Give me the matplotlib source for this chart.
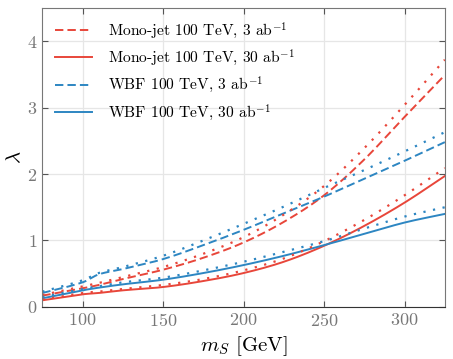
import numpy as np
import matplotlib
matplotlib.use("Agg")
import matplotlib.pyplot as plt

# DATA
ms = [75, 100, 110, 125, 150, 175, 200, 225, 250, 275, 300, 325]

wbf_3 = [0.21, 0.37, 0.49, 0.57, 0.72, 0.93, 1.16, 1.41, 1.66, 1.93, 2.20, 2.48]
wbf_3_alt = [0.23, 0.40, 0.51, 0.60, 0.77, 1.00, 1.25, 1.51, 1.79, 2.06, 2.34, 2.63]
wbf_30 = [0.13, 0.25, 0.29, 0.34, 0.41, 0.51, 0.63, 0.77, 0.93, 1.10, 1.27, 1.40]
wbf_30_alt = [0.15, 0.27, 0.31, 0.37, 0.44, 0.55, 0.68, 0.83, 0.99, 1.18, 1.36, 1.50]

mono_3 = [0.17, 0.28, 0.33, 0.42, 0.56, 0.74, 0.97, 1.28, 1.68, 2.22, 2.86, 3.49]
mono_3_alt = [0.18, 0.31, 0.36, 0.45, 0.60, 0.80, 1.05, 1.39, 1.82, 2.39, 3.04, 3.72]
mono_30 = [0.10, 0.19, 0.21, 0.25, 0.30, 0.39, 0.51, 0.68, 0.92, 1.22, 1.57, 1.97]
mono_30_alt = [0.11, 0.21, 0.23, 0.27, 0.33, 0.42, 0.55, 0.73, 0.99, 1.31, 1.68, 2.09]

labels = [r'Mono-jet 100 TeV, 3 ab$^{-1}$', r'Mono-jet 100 TeV, 30 ab$^{-1}$',
          r'WBF 100 TeV, 3 ab$^{-1}$', r'WBF 100 TeV, 30 ab$^{-1}$']

red = '#E8463A'
blue = '#2D86C2'

plt.rcParams['font.family'] = 'cmr10'
plt.rcParams['mathtext.fontset'] = 'cm'
plt.rcParams['axes.formatter.use_mathtext'] = True

fig = plt.figure(figsize=(4.53, 3.59), dpi=100)
ax = fig.add_axes([0.0934, 0.145, 0.8886, 0.833])


# catmull-rom through the read points so the curves don't look jagged
def smooth(y, n=20):
    x = np.asarray(ms, float)
    y = np.asarray(y, float)
    xp = np.concatenate([[2 * x[0] - x[1]], x, [2 * x[-1] - x[-2]]])
    yp = np.concatenate([[2 * y[0] - y[1]], y, [2 * y[-1] - y[-2]]])
    xo, yo = [], []
    for i in range(1, len(xp) - 2):
        t = np.linspace(0, 1, n, endpoint=False)
        p0, p1, p2, p3 = yp[i - 1], yp[i], yp[i + 1], yp[i + 2]
        m1 = (p2 - p0) / (xp[i + 1] - xp[i - 1]) * (xp[i + 1] - xp[i])
        m2 = (p3 - p1) / (xp[i + 2] - xp[i]) * (xp[i + 1] - xp[i])
        h00 = 2 * t**3 - 3 * t**2 + 1
        h10 = t**3 - 2 * t**2 + t
        h01 = -2 * t**3 + 3 * t**2
        h11 = t**3 - t**2
        yo.append(h00 * p1 + h10 * m1 + h01 * p2 + h11 * m2)
        xo.append(xp[i] + t * (xp[i + 1] - xp[i]))
    xo.append([x[-1]])
    yo.append([y[-1]])
    return np.concatenate(xo), np.concatenate(yo)


dash = (0, (4.3, 2.1))
dot = (0, (1, 3.4))

ax.plot(*smooth(mono_3), color=red, ls=dash, lw=1.4, label=labels[0])
ax.plot(*smooth(mono_30), color=red, ls='-', lw=1.4, label=labels[1])
ax.plot(*smooth(wbf_3), color=blue, ls=dash, lw=1.4, label=labels[2])
ax.plot(*smooth(wbf_30), color=blue, ls='-', lw=1.4, label=labels[3])

for ys, c in [(mono_3_alt, red), (mono_30_alt, red), (wbf_3_alt, blue), (wbf_30_alt, blue)]:
    ax.plot(*smooth(ys), color=c, ls=dot, lw=1.6)

ax.set_xlim(75, 325)
ax.set_ylim(0, 4.5)
ax.set_xticks([100, 150, 200, 250, 300])
ax.set_yticks([0, 1, 2, 3, 4])
ax.grid(True, color='#e6e6e6', lw=0.9)
ax.set_axisbelow(True)

ax.tick_params(direction='in', top=True, right=True, labelsize=13,
               labelcolor='#777777', color='#555555', length=4)
for side in ['left', 'top', 'right']:
    ax.spines[side].set_color('#777777')
ax.spines['bottom'].set_color('#333333')

ax.set_xlabel(r'$m_S$ [GeV]', fontsize=15)
ax.set_ylabel(r'$\lambda$', fontsize=15, labelpad=2)

ax.legend(loc='upper left', frameon=False, fontsize=11.2, handlelength=2.4,
          handletextpad=1.0, labelspacing=0.45, borderaxespad=0.4)

fig.savefig('out.png', dpi=100)
